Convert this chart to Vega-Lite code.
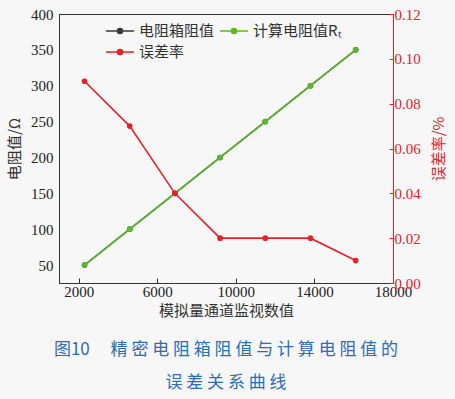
{
  "$schema": "https://vega.github.io/schema/vega-lite/v6.json",
  "width": 334,
  "height": 269,
  "autosize": {"type": "none"},
  "padding": {"left": 59, "top": 14, "right": 62, "bottom": 116},
  "background": "#f7f7f7",
  "config": {
    "view": {"stroke": "#333333", "strokeWidth": 1},
    "font": "Liberation Serif"
  },
  "title": {
    "text": ["图10　 精 密 电 阻 箱 阻 值 与 计 算 电 阻 值 的", "误 差 关 系 曲 线"],
    "orient": "bottom",
    "anchor": "middle",
    "font": "Noto Sans CJK SC",
    "fontSize": 17,
    "fontWeight": "normal",
    "color": "#2e6cb5",
    "lineHeight": 33,
    "offset": 24
  },
  "data": {
    "values": [
      {"x": 2300, "series": "电阻箱阻值", "value": 50},
      {"x": 4600, "series": "电阻箱阻值", "value": 100},
      {"x": 6900, "series": "电阻箱阻值", "value": 150},
      {"x": 9200, "series": "电阻箱阻值", "value": 200},
      {"x": 11500, "series": "电阻箱阻值", "value": 250},
      {"x": 13800, "series": "电阻箱阻值", "value": 300},
      {"x": 16100, "series": "电阻箱阻值", "value": 350},
      {"x": 2300, "series": "计算电阻值Rₜ", "value": 50},
      {"x": 4600, "series": "计算电阻值Rₜ", "value": 100},
      {"x": 6900, "series": "计算电阻值Rₜ", "value": 150},
      {"x": 9200, "series": "计算电阻值Rₜ", "value": 200},
      {"x": 11500, "series": "计算电阻值Rₜ", "value": 250},
      {"x": 13800, "series": "计算电阻值Rₜ", "value": 300},
      {"x": 16100, "series": "计算电阻值Rₜ", "value": 350},
      {"x": 2300, "series": "误差率", "value": 0.09},
      {"x": 4600, "series": "误差率", "value": 0.07},
      {"x": 6900, "series": "误差率", "value": 0.04},
      {"x": 9200, "series": "误差率", "value": 0.02},
      {"x": 11500, "series": "误差率", "value": 0.02},
      {"x": 13800, "series": "误差率", "value": 0.02},
      {"x": 16100, "series": "误差率", "value": 0.01}
    ]
  },
  "encoding": {
    "x": {
      "field": "x",
      "type": "quantitative",
      "scale": {"domain": [1000, 18000], "nice": false, "zero": false},
      "axis": {
        "title": "模拟量通道监视数值",
        "values": [2000, 6000, 10000, 14000, 18000],
        "format": "d",
        "grid": false,
        "labelFlush": false,
        "domainColor": "#333333",
        "tickColor": "#333333",
        "tickSize": -5,
        "labelPadding": 6,
        "labelFont": "Liberation Serif",
        "labelFontSize": 15,
        "labelColor": "#222222",
        "titleFont": "Noto Sans CJK SC",
        "titleFontSize": 15,
        "titleFontWeight": "normal",
        "titleColor": "#333333",
        "titlePadding": 4
      }
    },
    "color": {
      "field": "series",
      "type": "nominal",
      "scale": {
        "domain": ["电阻箱阻值", "计算电阻值Rₜ", "误差率"],
        "range": ["#3a3a3a", "#5cb82e", "#e8202a"]
      },
      "legend": {
        "orient": "none",
        "legendX": 53,
        "legendY": 9,
        "direction": "horizontal",
        "columns": 2,
        "title": null,
        "symbolType": "M-2,0L2,0M-0.36,0A0.36,0.36,0,1,1,0.36,0A0.36,0.36,0,1,1,-0.36,0Z",
        "symbolSize": 196,
        "symbolStrokeWidth": 1.6,
        "labelFont": "Noto Sans CJK SC",
        "labelFontSize": 15,
        "labelColor": "#333333",
        "labelOffset": 11,
        "columnPadding": 1,
        "rowPadding": 5,
        "padding": 0,
        "encode": {
          "symbols": {"update": {"fill": {"scale": "color", "field": "value"}}}
        }
      }
    }
  },
  "layer": [
    {
      "encoding": {
        "y": {
          "field": "value",
          "type": "quantitative",
          "scale": {"domain": [25, 400], "nice": false, "zero": false},
          "axis": {
            "title": "电阻值/Ω",
            "values": [50, 100, 150, 200, 250, 300, 350, 400],
            "grid": false,
            "ticks": false,
            "domainColor": "#333333",
            "labelPadding": 6,
            "labelFont": "Liberation Serif",
            "labelFontSize": 15,
            "labelColor": "#222222",
            "titleFont": "Noto Sans CJK SC",
            "titleFontSize": 15,
            "titleFontWeight": "normal",
            "titleColor": "#333333",
            "titlePadding": 8
          }
        }
      },
      "layer": [
        {
          "transform": [{"filter": "datum.series === '电阻箱阻值'"}],
          "mark": {"type": "line", "strokeWidth": 1.6, "point": {"filled": true, "size": 32}}
        },
        {
          "transform": [{"filter": "datum.series === '计算电阻值Rₜ'"}],
          "mark": {"type": "line", "strokeWidth": 1.6, "point": {"filled": true, "size": 32}}
        }
      ]
    },
    {
      "transform": [{"filter": "datum.series === '误差率'"}],
      "mark": {"type": "line", "strokeWidth": 1.6, "point": {"filled": true, "size": 32}},
      "encoding": {
        "y": {
          "field": "value",
          "type": "quantitative",
          "scale": {"domain": [0, 0.12], "nice": false, "zero": false},
          "axis": {
            "orient": "right",
            "title": "误差率/%",
            "values": [0, 0.02, 0.04, 0.06, 0.08, 0.1, 0.12],
            "format": ".2f",
            "grid": false,
            "labelFlush": false,
            "domainColor": "#e8202a",
            "tickColor": "#e8202a",
            "tickSize": -4,
            "labelPadding": 5,
            "labelFont": "Liberation Serif",
            "labelFontSize": 15,
            "labelColor": "#e8202a",
            "titleFont": "Noto Sans CJK SC",
            "titleFontSize": 15,
            "titleFontWeight": "normal",
            "titleColor": "#e8202a",
            "titleAngle": 270,
            "titlePadding": 26,
            "zindex": 1
          }
        }
      }
    }
  ],
  "resolve": {"scale": {"y": "independent"}}
}
